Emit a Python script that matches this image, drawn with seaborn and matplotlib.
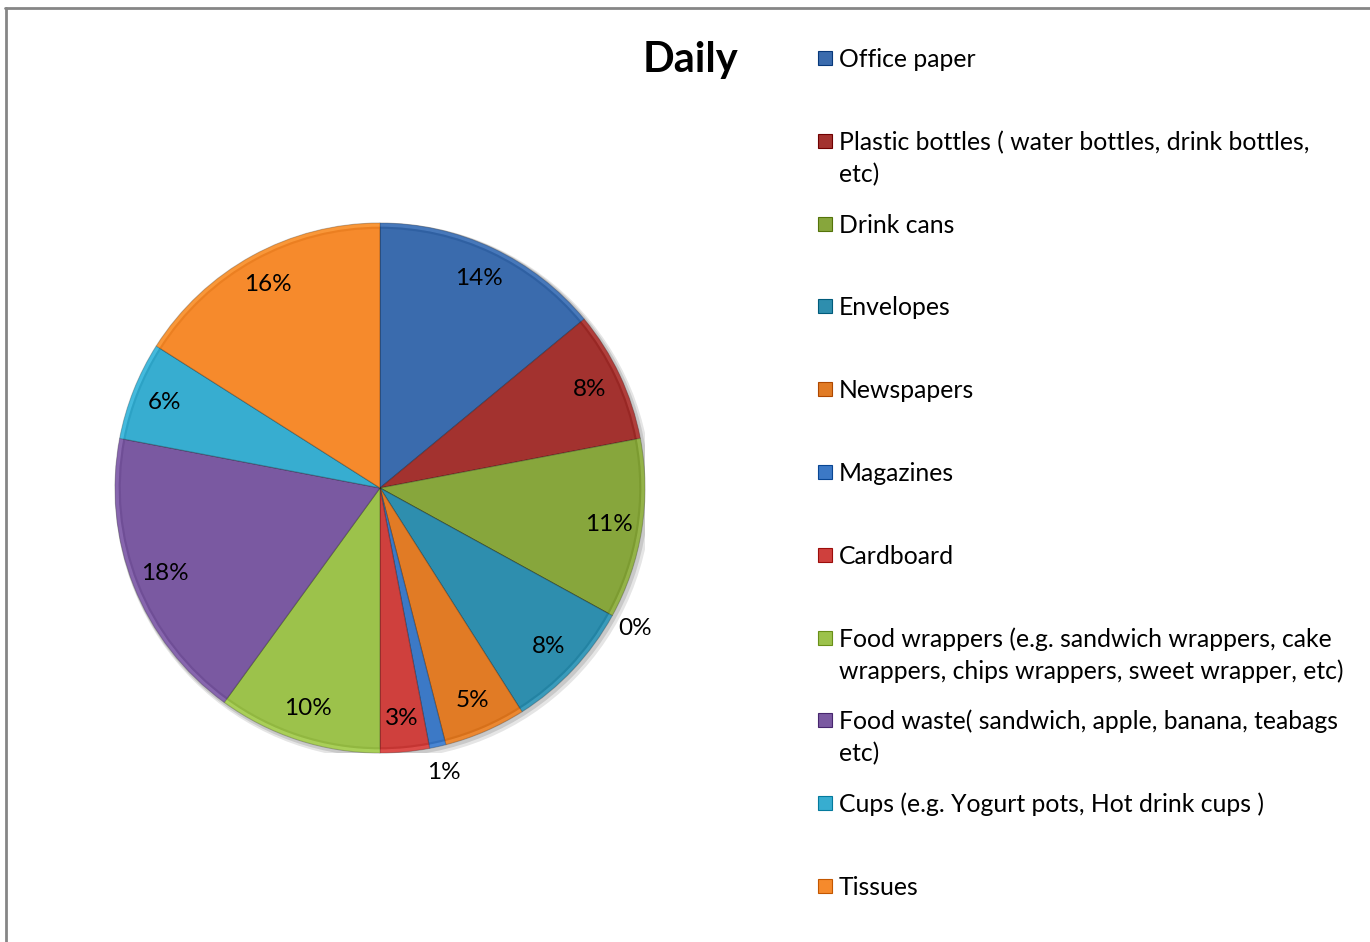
import matplotlib
matplotlib.use("Agg")
import matplotlib.pyplot as plt
import matplotlib.colors as mcolors
from matplotlib.patches import Rectangle, Wedge, Circle
from matplotlib.lines import Line2D
import numpy as np
import seaborn as sns

# ---- data -------------------------------------------------------------
# slices in drawing order (clockwise from 12 o'clock); the 4th slice is
# an empty category that has no legend entry
categories = [
    "Office paper",
    "Plastic bottles ( water bottles, drink bottles,\netc)",
    "Drink cans",
    None,
    "Envelopes",
    "Newspapers",
    "Magazines",
    "Cardboard",
    "Food wrappers (e.g. sandwich wrappers, cake\nwrappers, chips wrappers, sweet wrapper, etc)",
    "Food waste( sandwich, apple, banana, teabags\netc)",
    "Cups (e.g. Yogurt pots, Hot drink cups )",
    "Tissues",
]
shares = [14, 8, 11, 0, 8, 5, 1, 3, 10, 18, 6, 16]
title = "Daily"

slice_colors = ["#3A6BAD", "#A3322F", "#87A63C", "#7A5CA0", "#2E8EAE", "#E17B25",
                "#3C79C6", "#CF403D", "#9CC24B", "#7A59A1", "#37ADD0", "#F68A2C"]

# ---- style ------------------------------------------------------------
sns.set_theme(style="white")
plt.rcParams["font.family"] = ["Lato", "DejaVu Sans"]

W, H = 1370, 942
fig = plt.figure(figsize=(W / 100, H / 100), dpi=100)
fig.patch.set_facecolor("white")


def fx(px):
    return px / W


def fy(py):
    return 1 - py / H


# chart-area border (top and left edges)
fig.add_artist(Line2D([fx(6), fx(6)], [fy(8), fy(960)], color="#868686", lw=2,
                      transform=fig.transFigure))
fig.add_artist(Line2D([fx(5), fx(1380)], [fy(8), fy(8)], color="#868686", lw=2,
                      transform=fig.transFigure))

# ---- pie --------------------------------------------------------------
cx, cy, R = 380, 488, 265
ax = fig.add_axes([fx(cx - R), fy(cy + R), 2 * R / W, 2 * R / H])
ax.set_axis_off()

# faint drop shadow under the pie
for k, a in [(0.012, 0.10), (0.007, 0.12)]:
    ax.add_patch(Circle((k, -k), 1.0 + k, facecolor=(0, 0, 0, a), edgecolor="none",
                        zorder=0))

wedges, _ = ax.pie(shares, colors=slice_colors, startangle=90, counterclock=False,
                   radius=1.0,
                   wedgeprops=dict(edgecolor="#00000040", linewidth=0.8, zorder=1))
ax.set_xlim(-1, 1)
ax.set_ylim(-1, 1)

# soft bevel: light rim on the outer edge of each slice
for w, col in zip(wedges, slice_colors):
    rgb = mcolors.to_rgb(col)
    light = tuple(min(1, c + 0.15) for c in rgb) + (0.35,)
    dark = tuple(max(0, c - 0.12) for c in rgb) + (0.35,)
    ax.add_patch(Wedge((0, 0), 1.0, w.theta1, w.theta2, width=0.014,
                       facecolor=light, edgecolor="none", zorder=2))
    ax.add_patch(Wedge((0, 0), 0.986, w.theta1, w.theta2, width=0.008,
                       facecolor=dark, edgecolor="none", zorder=2))

# percentage labels
for w, v in zip(wedges, shares):
    mid = np.deg2rad((w.theta1 + w.theta2) / 2)
    r = 1.10 if v <= 1 else 0.875
    ax.text(r * np.cos(mid), r * np.sin(mid), f"{v}%", ha="center", va="center",
            fontsize=17.5, color="black", clip_on=False, zorder=3)

# ---- title ------------------------------------------------------------
fig.text(fx(690), fy(60), title, ha="center", va="center", fontsize=30,
         fontweight="bold", color="black")

# ---- legend -----------------------------------------------------------
row0, step = 58, 82.8
entries = [(c, col) for c, col in zip(categories, slice_colors) if c is not None]
for i, (name, col) in enumerate(entries):
    yc = row0 + i * step
    fig.add_artist(Rectangle((fx(818), fy(yc + 7)), 14 / W, 14 / H,
                             transform=fig.transFigure, facecolor=col,
                             edgecolor=tuple(max(0, c - 0.2) for c in mcolors.to_rgb(col)),
                             linewidth=0.8))
    for j, line in enumerate(name.split("\n")):
        fig.text(fx(839), fy(yc + 9 + 32 * j), line, ha="left", va="baseline",
                 fontsize=17.8, color="black")

fig.savefig("out.png", dpi=100, facecolor="white")
